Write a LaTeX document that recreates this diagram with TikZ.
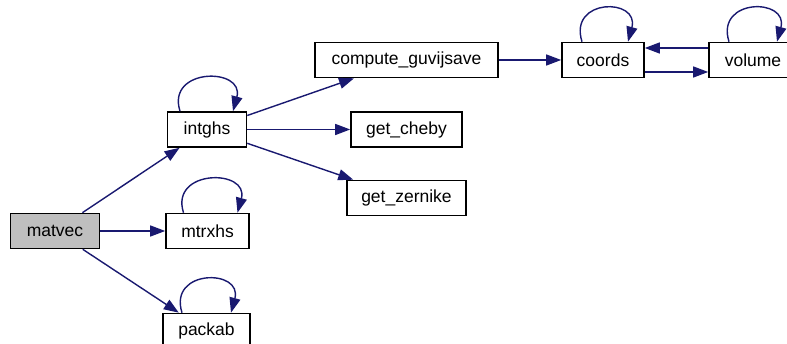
\documentclass[tikz,border=0pt]{standalone}
\usepackage{fontspec}
\setmainfont{Liberation Sans}
\usepackage{tikz}
\usetikzlibrary{arrows.meta}
\definecolor{CallEdgeColor}{RGB}{25,25,112}
\definecolor{CallRootColor}{RGB}{191,191,191}

\begin{document}
\begin{tikzpicture}[x=1pt,y=1pt,font=\fontsize{17.5}{20}\selectfont,
  fn/.style={rectangle,draw=black,line width=1.6pt,fill=white,minimum width=#1,minimum height=35pt,inner sep=0pt},
  call/.style={draw=CallEdgeColor,line width=1.4pt,-{Triangle[length=15pt,width=11pt]}}]
\useasboundingbox (0,0) rectangle (787,344);
\node[fn=89pt,fill=CallRootColor](matvec) at(55,113) {matvec};
\node[fn=79pt](intghs) at(207,214.5) {intghs};
\node[fn=83pt](mtrxhs) at(207.5,113) {mtrxhs};
\node[fn=87pt](packab) at(206.5,13) {packab};
\node[fn=183pt](guvij) at(406.5,284) {compute\_guvijsave};
\node[fn=111pt](cheby) at(406.5,214.5) {get\_cheby};
\node[fn=119pt](zernike) at(406.5,146) {get\_zernike};
\node[fn=82pt](coords) at(603,284) {coords};
\node[fn=88pt](volume) at(753,284) {volume};
\draw[call] (matvec) -- (intghs);
\draw[call] (matvec) -- (mtrxhs);
\draw[call] (matvec) -- (packab);
\draw[call] (intghs) -- (guvij);
\draw[call] (intghs) -- (cheby);
\draw[call] (intghs) -- (zernike);
\draw[call] (guvij) -- (coords);
\draw[call] ([yshift=-12pt]coords.east) -- ([yshift=-12pt]volume.west);
\draw[call] ([yshift=12pt]volume.west) -- ([yshift=12pt]coords.east);
% recursive calls
\foreach \n/\a/\b in %
{intghs/-27/26,mtrxhs/-24/30,packab/-24.5/24.5,coords/-21/25,volume/-24/24} {
   \draw[call] ([xshift=\a pt]\n.north) .. controls +(-14,44) and +(12,44) .. ([xshift=\b pt]\n.north);
}
\end{tikzpicture}
\end{document}
